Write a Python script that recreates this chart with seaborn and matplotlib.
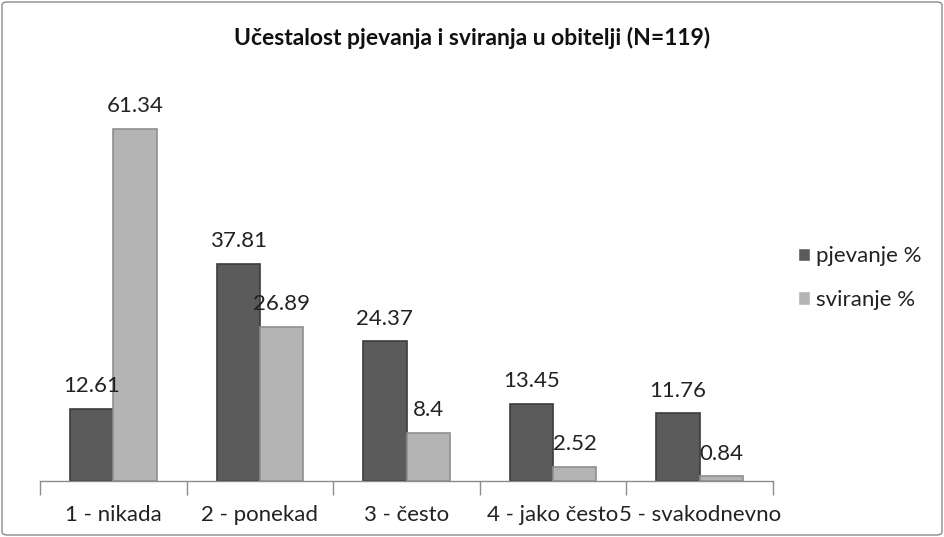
import matplotlib
matplotlib.use("Agg")
import matplotlib.pyplot as plt
import seaborn as sns
import pandas as pd
from matplotlib.patches import FancyBboxPatch
from matplotlib.ticker import FixedLocator

categories = ["1 - nikada", "2 - ponekad", "3 - često", "4 - jako često", "5 - svakodnevno"]
pjevanje = [12.61, 37.81, 24.37, 13.45, 11.76]
sviranje = [61.34, 26.89, 8.4, 2.52, 0.84]
series = ["pjevanje %", "sviranje %"]
title = "Učestalost pjevanja i sviranja u obitelji (N=119)"

df = pd.DataFrame({
    "kategorija": categories * 2,
    "vrijednost": pjevanje + sviranje,
    "serija": [series[0]] * len(categories) + [series[1]] * len(categories),
})

sns.set_theme(style="white")
plt.rcParams["font.family"] = ["Lato", "DejaVu Sans"]

W, H = 944, 537
px_per_unit = 5.74
ymax = 68
ax_h_px = ymax * px_per_unit

fig = plt.figure(figsize=(W / 100, H / 100), dpi=100)
ax = fig.add_axes([40 / W, 56 / H, (773 - 40) / W, ax_h_px / H])

palette = {series[0]: "#5b5b5b", series[1]: "#b4b4b4"}
edges = {series[0]: "#3c3c3c", series[1]: "#8f8f8f"}
sns.barplot(data=df, x="kategorija", y="vrijednost", hue="serija", palette=palette,
            width=0.59, ax=ax, legend=True, saturation=1)

for cont, s in zip(ax.containers, series):
    for bar in cont:
        bar.set_edgecolor(edges[s])
        bar.set_linewidth(1.2)
    ax.bar_label(cont, labels=[f"{v:g}" for v in cont.datavalues], padding=9,
                 fontsize=16, color="#222222")

ax.set_ylim(0, ymax)
ax.set_xlim(-0.5, len(categories) - 0.5)

for s in ["top", "right", "left"]:
    ax.spines[s].set_visible(False)
ax.spines["bottom"].set_color("#8c8c8c")
ax.spines["bottom"].set_linewidth(1)
ax.set_yticks([])
ax.set_xlabel("")
ax.set_ylabel("")
ax.tick_params(axis="x", which="major", length=0, labelsize=16, pad=17, labelcolor="#222222")
ax.xaxis.set_minor_locator(FixedLocator([i - 0.5 for i in range(len(categories) + 1)]))
ax.tick_params(axis="x", which="minor", length=10, color="#8c8c8c", width=1, bottom=True)

leg = ax.legend(loc="center left", bbox_to_anchor=(798 / W, 1 - 278 / H), bbox_transform=fig.transFigure,
                frameon=False, fontsize=16, handlelength=0.55, handleheight=0.55,
                handletextpad=0.25, labelspacing=1.05, borderaxespad=0, borderpad=0)
for t in leg.get_texts():
    t.set_color("#222222")

fig.text(0.5, 1 - 38 / H, title, ha="center", va="center", fontsize=16.5, fontweight="bold",
         color="#111111")

border = FancyBboxPatch((2 / W, 2 / H), 1 - 4 / W, 1 - 4 / H, boxstyle="round,pad=0,rounding_size=0.006",
                        transform=fig.transFigure, fill=False, edgecolor="#8a8a8a", linewidth=1)
fig.patches.append(border)

fig.savefig("out.png", dpi=100)
